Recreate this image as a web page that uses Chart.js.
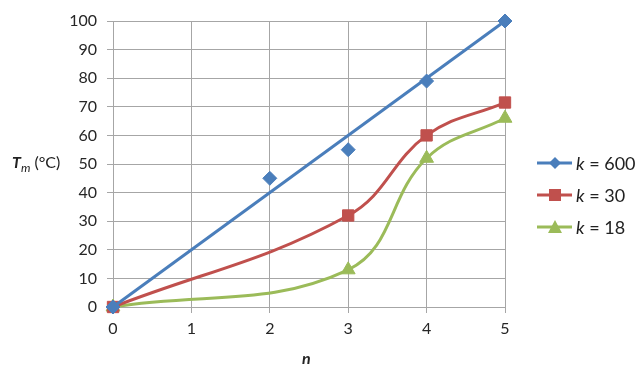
<!DOCTYPE html>
<html><head><meta charset="utf-8">
<script src="https://cdn.jsdelivr.net/npm/chart.js@4/dist/chart.umd.min.js"></script>
<style>
html,body{margin:0;padding:0;background:#fff;}
#wrap{position:relative;width:640px;height:368px;font-family:Lato,"Open Sans",sans-serif;color:#222;}
canvas{position:absolute;left:0;top:0;}
.ytitle{position:absolute;left:12px;top:152px;font-size:16px;white-space:nowrap;}
.xtitle{position:absolute;left:302px;top:348px;font-size:16px;font-weight:bold;font-style:italic;}
.legend{position:absolute;left:536px;top:147px;font-size:18px;}
.legend div{height:32px;display:flex;align-items:center;white-space:nowrap;}
.legend svg{margin-right:3px;}
</style></head>
<body><div id="wrap"><canvas id="c" width="640" height="368"></canvas>
<div class="ytitle"><b><i>T</i></b><sub style="font-style:italic;font-size:12px">m</sub> (°C)</div>
<div class="xtitle">n</div>
<div class="legend" id="legend"></div>
</div>
<script>
// Data
const seriesNames = ["k = 600", "k = 30", "k = 18"];
const k600X = [0, 2, 3, 4, 5];
const k600Y = [0, 45, 55, 79, 100];
const k600TrendX = [0, 5];
const k600TrendY = [0, 100];
const k30X = [0, 3, 4, 5];
const k30Y = [0, 32, 60, 71.5];
const k18X = [0, 3, 4, 5];
const k18Y = [0, 13, 52, 66];
const xTicks = [0, 1, 2, 3, 4, 5];
const yTicks = [0, 10, 20, 30, 40, 50, 60, 70, 80, 90, 100];

const colors = ["#4A7EBB", "#C0504D", "#9BBB59"];
const shapes = ["rectRot", "rect", "triangle"];
const radii = [7, 8, 8];
const pts = (xs, ys) => xs.map((x, i) => ({x, y: ys[i]}));

const grid = "#A6A6A6";
new Chart(document.getElementById("c"), {
  type: "scatter",
  data: {
    datasets: [
      {label: seriesNames[0]+" markers", data: pts(k600X, k600Y), showLine: false, clip: false,
       pointStyle: shapes[0], pointRadius: radii[0], backgroundColor: colors[0], borderColor: colors[0], borderWidth: 1, order: 0},
      {label: seriesNames[0], data: pts(k600TrendX, k600TrendY), showLine: true, pointRadius: 0, clip: false,
       borderColor: colors[0], borderWidth: 3, order: 1},
      {label: seriesNames[1], data: pts(k30X, k30Y), showLine: true, tension: 0.4, clip: false,
       pointStyle: shapes[1], pointRadius: radii[1], backgroundColor: colors[1], borderColor: colors[1],
       borderWidth: 3, pointBorderWidth: 1, order: 2},
      {label: seriesNames[2], data: pts(k18X, k18Y), showLine: true, tension: 0.4, clip: false,
       pointStyle: shapes[2], pointRadius: radii[2], backgroundColor: colors[2], borderColor: colors[2],
       borderWidth: 3, pointBorderWidth: 1, order: 3}
    ]
  },
  options: {
    responsive: false, animation: false, devicePixelRatio: 1,
    layout: {padding: {left: 0, right: 135, top: 21, bottom: 0}},
    plugins: {legend: {display: false}, tooltip: {enabled: false}},
    scales: {
      x: {type: "linear", min: 0, max: 5,
        afterBuildTicks: s => { s.ticks = xTicks.map(v => ({value: v})); },
        afterFit: s => { s.height = 61; },
        grid: {color: grid, tickLength: 6, drawTicks: true},
        border: {color: grid},
        ticks: {padding: 6, color: "#262626", font: {family: "Lato", size: 16}}},
      y: {type: "linear", min: 0, max: 100,
        afterBuildTicks: s => { s.ticks = yTicks.map(v => ({value: v})); },
        afterFit: s => { s.width = 113; },
        grid: {color: grid, tickLength: 6, drawTicks: true},
        border: {color: grid},
        ticks: {padding: 10, color: "#262626", font: {family: "Lato", size: 16}}}
    }
  }
});

// HTML legend
const legendEl = document.getElementById("legend");
const markerSvg = [
  c => `<path d="M19 3 L25 9 L19 15 L13 9 Z" fill="${c}"/>`,
  c => `<rect x="13" y="3" width="12" height="12" fill="${c}"/>`,
  c => `<path d="M19 2 L26 15 L12 15 Z" fill="${c}"/>`
];
seriesNames.forEach((name, i) => {
  const d = document.createElement("div");
  const parts = name.split(" = ");
  d.innerHTML = `<svg width="37" height="18"><line x1="1" y1="9" x2="36" y2="9" stroke="${colors[i]}" stroke-width="3"/>${markerSvg[i](colors[i])}</svg><span><i>${parts[0]}</i> = ${parts[1]}</span>`;
  legendEl.appendChild(d);
});
</script></body></html>
